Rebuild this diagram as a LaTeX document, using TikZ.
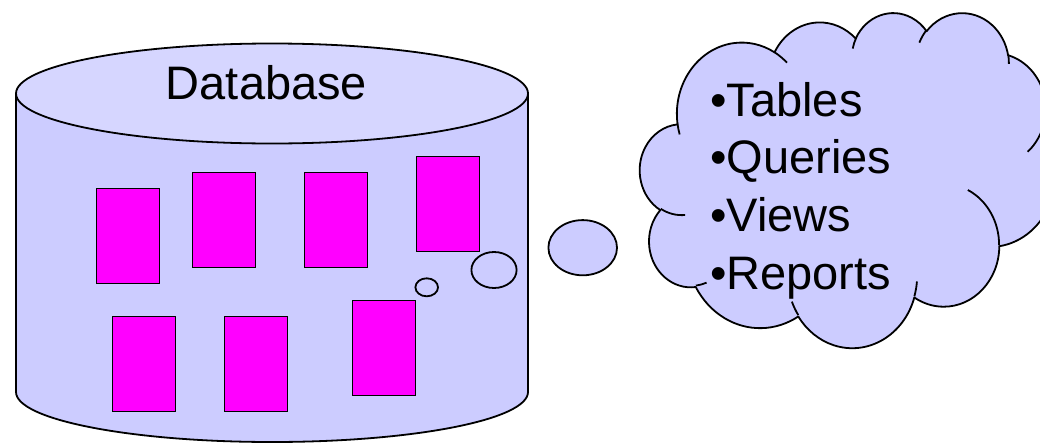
\documentclass[tikz,border=0pt]{standalone}
\usepackage{fontspec}
\setmainfont{Liberation Sans}
\usetikzlibrary{shapes.geometric}

\definecolor{lavender}{HTML}{CCCCFF}
\definecolor{lavtop}{HTML}{D6D6FF}
\definecolor{tablemag}{HTML}{FF00FF}

\tikzset{
  outline/.style={draw=black, line width=1.8pt},
  tablebox/.style={outline, fill=tablemag, rectangle, inner sep=0pt,
    minimum width=63pt, minimum height=95pt},
  bubble/.style={outline, ellipse, inner sep=0pt},
  bigtext/.style={font=\fontsize{47}{57.7}\selectfont, inner sep=0pt},
}

\begin{document}
\begin{tikzpicture}[x=1pt, y=1pt, yscale=-1]
  \useasboundingbox (0,0) rectangle (1040,442);
  \clip (0,0) rectangle (1040,442);

  % database cylinder
  \filldraw[outline, fill=lavender] (272,392) ellipse [x radius=256, y radius=50];
  \fill[lavender] (16,93.5) rectangle (528,392);
  \draw[outline] (16,93.5) -- (16,392) (528,93.5) -- (528,392);
  \filldraw[outline, fill=lavtop] (272,93.5) ellipse [x radius=256, y radius=50];
  \node[bigtext, anchor=base] (dbtitle) at (266.5,99.5) {Database};

  % tables stored in the database
  \node[tablebox] (r1) at (128,236) {};
  \node[tablebox] (r2) at (224,220) {};
  \node[tablebox] (r3) at (336,220) {};
  \node[tablebox] (r4) at (448,204) {};
  \node[tablebox] (r5) at (144,364) {};
  \node[tablebox] (r6) at (256,364) {};
  \node[tablebox] (r7) at (384,348) {};

  % thought bubbles
  \node[bubble, minimum width=22.6pt, minimum height=18pt] (b1) at (426.7,287.3) {};
  \node[bubble, minimum width=45.2pt, minimum height=36pt] (b2) at (494,270) {};
  \node[bubble, fill=lavender, minimum width=68.6pt, minimum height=55.2pt] (b3) at (582.7,247.7) {};

  % cloud outline and its inner lobe strokes
  \begin{scope}[shift={(640,12)}, xscale=415/43.2, yscale=335/43.2]
    \filldraw[outline, fill=lavender, line join=round] (3.900,14.370)
      arc[start angle=-187.75, end angle=-59.64,  x radius=6.753, y radius=9.190]
      arc[start angle=-152.02, end angle=-45.45,  x radius=5.333, y radius=7.267]
      arc[start angle=-153.49, end angle=-37.32,  x radius=4.365, y radius=5.945]
      arc[start angle=-139.72, end angle=-10.22,  x radius=4.857, y radius=6.595]
      arc[start angle=-74.77,  end angle=23.22,   x radius=5.333, y radius=7.273]
      arc[start angle=-37.52,  end angle=81.86,   x radius=6.775, y radius=9.220]
      arc[start angle=0.46,    end angle=121.98,  x radius=5.785, y radius=7.867]
      arc[start angle=16.85,   end angle=146.23,  x radius=6.752, y radius=9.215]
      arc[start angle=58.98,   end angle=150.20,  x radius=7.720, y radius=10.543]
      arc[start angle=83.31,   end angle=223.12,  x radius=4.360, y radius=5.918]
      arc[start angle=120.36,  end angle=264.11,  x radius=4.345, y radius=5.945]
      -- cycle;
    \draw[outline]
      (4.693,26.177)  arc[start angle=85.54,   end angle=120.36,  x radius=4.345, y radius=5.945]
      (6.928,34.899)  arc[start angle=68.23,   end angle=83.31,   x radius=4.360, y radius=5.918]
      (16.478,39.090) arc[start angle=146.23,  end angle=158.47,  x radius=6.752, y radius=9.215]
      (28.827,34.751) arc[start angle=4.73,    end angle=16.85,   x radius=6.752, y radius=9.215]
      (34.129,22.954) arc[start angle=-64.03,  end angle=0.46,    x radius=5.785, y radius=7.867]
      (41.798,15.354) arc[start angle=23.22,   end angle=49.63,   x radius=5.333, y radius=7.273]
      (38.324,5.426)  arc[start angle=-10.22,  end angle=0.83,    x radius=4.857, y radius=6.595]
      (29.078,3.952)  arc[start angle=-156.29, end angle=-139.72, x radius=4.857, y radius=6.595]
      (22.141,4.720)  arc[start angle=-167.72, end angle=-153.49, x radius=4.365, y radius=5.945]
      (14.000,5.192)  arc[start angle=-59.64,  end angle=-45.74,  x radius=6.753, y radius=9.190]
      (4.127,15.789)  arc[start angle=163.19,  end angle=172.25,  x radius=6.753, y radius=9.190];
  \end{scope}

  % list inside the cloud
  \node[bigtext, anchor=base west] (l1) at (710,116)   {•Tables};
  \node[bigtext, anchor=base west] (l2) at (710,173.7) {•Queries};
  \node[bigtext, anchor=base west] (l3) at (710,231.3) {•Views};
  \node[bigtext, anchor=base west] (l4) at (710,289)   {•Reports};
\end{tikzpicture}
\end{document}
